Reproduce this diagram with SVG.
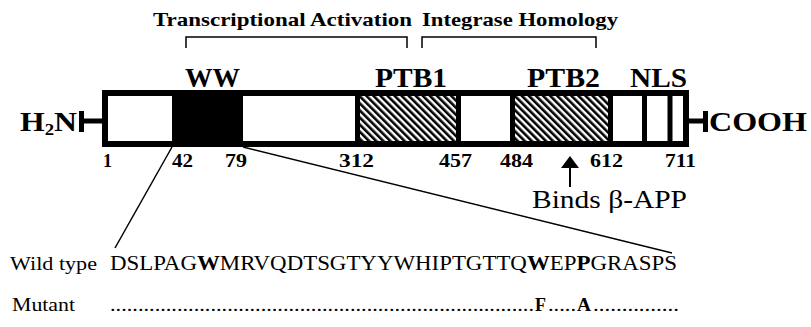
<svg xmlns="http://www.w3.org/2000/svg" width="811" height="327" viewBox="0 0 811 327">
<style>
.b{font-family:'Liberation Serif','DejaVu Serif',serif;font-weight:bold;fill:#000}
.r{font-family:'Liberation Serif','DejaVu Serif',serif;font-weight:normal;fill:#000}
.thin{stroke:#000;stroke-width:1.5;fill:none}
.thick{stroke:#000;stroke-width:5;fill:none}
</style>
<defs>
<pattern id="hatch" patternUnits="userSpaceOnUse" width="5" height="10" patternTransform="rotate(-45)">
<rect width="5" height="10" fill="#fff"/>
<line x1="1.3" y1="0" x2="1.3" y2="10" stroke="#000" stroke-width="2.6"/>
</pattern>
</defs>
<rect width="811" height="327" fill="#fff"/>

<g id="headers">
<text class="b" x="153" y="26" font-size="19" textLength="259" lengthAdjust="spacingAndGlyphs">Transcriptional Activation</text>
<text class="b" x="422" y="26" font-size="19" textLength="196" lengthAdjust="spacingAndGlyphs">Integrase Homology</text>
<path class="thin" d="M186,48 V37 H407 V48"/>
<path class="thin" d="M422,48 V37 H596 V48"/>
</g>

<g id="domain-labels">
<text class="b" x="185" y="87" font-size="27" textLength="55" lengthAdjust="spacingAndGlyphs">WW</text>
<text class="b" x="375" y="87" font-size="27" textLength="72" lengthAdjust="spacingAndGlyphs">PTB1</text>
<text class="b" x="527" y="87" font-size="27" textLength="73" lengthAdjust="spacingAndGlyphs">PTB2</text>
<text class="b" x="630" y="87" font-size="27" textLength="57" lengthAdjust="spacingAndGlyphs">NLS</text>
</g>

<g id="protein-bar">
<rect x="105" y="93" width="581" height="51" fill="#fff"/>
<rect x="172" y="93" width="71" height="51" fill="#000"/>
<rect x="357" y="93" width="101" height="51" fill="url(#hatch)"/>
<rect x="512" y="93" width="98" height="51" fill="url(#hatch)"/>
<line class="thick" x1="357.5" y1="93" x2="357.5" y2="144"/>
<line class="thick" x1="458.5" y1="93" x2="458.5" y2="144"/>
<line class="thick" x1="512.5" y1="93" x2="512.5" y2="144"/>
<line class="thick" x1="610.5" y1="93" x2="610.5" y2="144"/>
<line class="thick" x1="644.5" y1="93" x2="644.5" y2="144"/>
<line class="thick" x1="670" y1="93" x2="670" y2="144"/>
<rect x="105" y="93" width="581" height="51" fill="none" stroke="#000" stroke-width="6"/>
</g>

<g id="n-terminus">
<text class="b" x="20" y="131" font-size="27" textLength="57" lengthAdjust="spacingAndGlyphs">H<tspan font-size="16" dy="4">2</tspan><tspan dy="-4">N</tspan></text>
<line class="thick" x1="84" y1="121" x2="102" y2="121"/>
<line class="thick" x1="81.5" y1="111" x2="81.5" y2="132"/>
</g>

<g id="c-terminus">
<line class="thick" x1="689" y1="121" x2="706" y2="121"/>
<line class="thick" x1="705.5" y1="111" x2="705.5" y2="132"/>
<text class="b" x="709" y="131" font-size="27" textLength="98" lengthAdjust="spacingAndGlyphs">COOH</text>
</g>

<g id="positions">
<text class="b" x="103" y="167" font-size="19" textLength="9" lengthAdjust="spacingAndGlyphs">1</text>
<text class="b" x="172" y="167" font-size="19" textLength="21" lengthAdjust="spacingAndGlyphs">42</text>
<text class="b" x="225" y="167" font-size="19" textLength="22" lengthAdjust="spacingAndGlyphs">79</text>
<text class="b" x="339" y="167" font-size="19" textLength="35" lengthAdjust="spacingAndGlyphs">312</text>
<text class="b" x="439" y="167" font-size="19" textLength="33" lengthAdjust="spacingAndGlyphs">457</text>
<text class="b" x="500" y="167" font-size="19" textLength="33" lengthAdjust="spacingAndGlyphs">484</text>
<text class="b" x="590" y="167" font-size="19" textLength="33" lengthAdjust="spacingAndGlyphs">612</text>
<text class="b" x="665" y="167" font-size="19" textLength="31" lengthAdjust="spacingAndGlyphs">711</text>
</g>

<g id="binds-app">
<polygon points="570,156 561,168 579,168" fill="#000"/>
<line x1="570" y1="167" x2="570" y2="187" stroke="#000" stroke-width="2"/>
<text class="r" x="532" y="208" font-size="25" textLength="155" lengthAdjust="spacingAndGlyphs">Binds β-APP</text>
</g>

<g id="connectors">
<line class="thin" x1="172" y1="147" x2="115" y2="248"/>
<line class="thin" x1="243" y1="147" x2="672" y2="253"/>
</g>

<g id="sequences">
<text class="r" x="10" y="270" font-size="19" textLength="87" lengthAdjust="spacingAndGlyphs">Wild type</text>
<text class="r" x="110" y="270" font-size="20" textLength="567" lengthAdjust="spacingAndGlyphs">DSLPAG<tspan font-weight="bold">W</tspan>MRVQDTSGTYYWHIPTGTTQ<tspan font-weight="bold">W</tspan>EP<tspan font-weight="bold">P</tspan>GRASPS</text>
<text class="r" x="12" y="311" font-size="19" textLength="63" lengthAdjust="spacingAndGlyphs">Mutant</text>
<text class="r" x="110" y="311" font-size="19" textLength="424" lengthAdjust="spacingAndGlyphs">............................................................................</text>
<text class="b" x="535" y="311" font-size="19" textLength="11" lengthAdjust="spacingAndGlyphs">F</text>
<text class="r" x="548" y="311" font-size="19" textLength="28" lengthAdjust="spacingAndGlyphs">.....</text>
<text class="b" x="577" y="311" font-size="19" textLength="14" lengthAdjust="spacingAndGlyphs">A</text>
<text class="r" x="593" y="311" font-size="19" textLength="86" lengthAdjust="spacingAndGlyphs">...............</text>
</g>
</svg>
